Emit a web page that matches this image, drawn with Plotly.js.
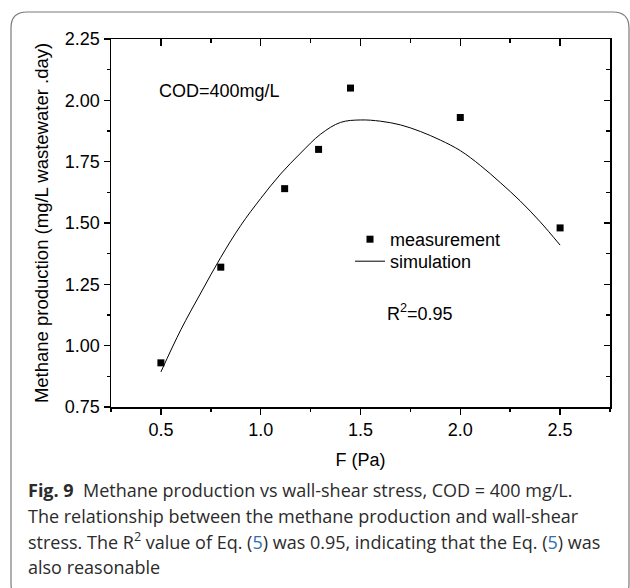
<!DOCTYPE html>
<html>
<head>
<meta charset="utf-8">
<script src="https://cdn.plot.ly/plotly-3.0.1.min.js"></script>
<style>
  html, body { margin: 0; padding: 0; background: #fff; }
  #chart { width: 630px; height: 588px; }
</style>
</head>
<body>
<div id="chart"></div>
<script>
// Measured data (F in Pa, methane production in mg/L wastewater.day)
const measF = [0.5, 0.8, 1.12, 1.29, 1.45, 2.0, 2.5];
const measY = [0.93, 1.32, 1.64, 1.80, 2.05, 1.93, 1.48];

// Simulation curve
const simF = [0.5, 0.6, 0.7, 0.8, 0.9, 1.0, 1.1, 1.2, 1.3, 1.4, 1.5, 1.6, 1.7, 1.8, 1.9, 2.0, 2.1, 2.2, 2.3, 2.4, 2.5];
const simY = [0.893, 1.065, 1.215, 1.36, 1.49, 1.60, 1.70, 1.785, 1.862, 1.910, 1.920, 1.915, 1.900, 1.873, 1.838, 1.795, 1.735, 1.665, 1.59, 1.505, 1.41];

const xTickVals = [0.5, 1.0, 1.5, 2.0, 2.5];
const xTickText = ["0.5", "1.0", "1.5", "2.0", "2.5"];
const yTickVals = [0.75, 1.00, 1.25, 1.50, 1.75, 2.00, 2.25];
const yTickText = ["0.75", "1.00", "1.25", "1.50", "1.75", "2.00", "2.25"];

const seriesNames = ["measurement", "simulation"];
const xTitle = "F (Pa)";
const yTitle = "Methane production (mg/L wastewater .day)";
const noteCOD = "COD=400mg/L";
const noteR2 = "R<sup>2</sup>=0.95";
const captionLines = [
  "<b>Fig. 9</b>  Methane production vs wall-shear stress, COD = 400 mg/L.",
  "The relationship between the methane production and wall-shear",
  "stress. The R<sup>2</sup> value of Eq. (<span style='color:#2f6db5'>5</span>) was 0.95, indicating that the Eq. (<span style='color:#2f6db5'>5</span>) was",
  "also reasonable"
];

// Layout geometry (pixels)
const W = 630, H = 588;
const M = {l: 111, r: 20, t: 39, b: 181};
const PW = W - M.l - M.r, PH = H - M.t - M.b;
const px = v => (v - M.l) / PW;
const py = v => (M.t + PH - v) / PH;

const FONT = "Arial, 'Liberation Sans', sans-serif";
const CAPFONT = "'Open Sans', 'Noto Sans', sans-serif";

const traces = [
  {
    x: measF, y: measY, name: seriesNames[0], type: "scatter", mode: "markers",
    marker: {symbol: "square", size: 7, color: "#000"}, legend: "legend"
  },
  {
    x: simF, y: simY, name: seriesNames[1], type: "scatter", mode: "lines",
    line: {color: "#000", width: 1, shape: "spline", smoothing: 1}, legend: "legend2"
  },
  {
    x: [], y: [], xaxis: "x2", yaxis: "y2", type: "scatter", mode: "markers",
    showlegend: false, hoverinfo: "skip"
  }
];

const axisCommon = {
  showgrid: false, zeroline: false, showline: true,
  linecolor: "#000", linewidth: 1.5, tickcolor: "#000", tickwidth: 1.5,
  tickfont: {family: FONT, size: 18, color: "#000"}
};

const captionAnn = captionLines.map((t, i) => ({
  text: t, xref: "paper", yref: "paper", x: px(26), y: py(490 + i * 25.7),
  xanchor: "left", yanchor: "middle", showarrow: false, align: "left",
  font: {family: CAPFONT, size: 18, color: "#2b2b2b"}
}));

const r = 16, fx0 = 11, fy0 = 12, fx1 = 629, fy1 = 600;
const framePath =
  `M ${px(fx0)} ${py(fy0 + r)} Q ${px(fx0)} ${py(fy0)} ${px(fx0 + r)} ${py(fy0)} ` +
  `L ${px(fx1 - r)} ${py(fy0)} Q ${px(fx1)} ${py(fy0)} ${px(fx1)} ${py(fy0 + r)} ` +
  `L ${px(fx1)} ${py(fy1 - r)} Q ${px(fx1)} ${py(fy1)} ${px(fx1 - r)} ${py(fy1)} ` +
  `L ${px(fx0 + r)} ${py(fy1)} Q ${px(fx0)} ${py(fy1)} ${px(fx0)} ${py(fy1 - r)} Z`;

const legendCommon = {
  xanchor: "left", yanchor: "top",
  bgcolor: "rgba(0,0,0,0)", borderwidth: 0,
  font: {family: FONT, size: 18, color: "#000"},
  tracegroupgap: 0, itemwidth: 30
};

const layout = {
  width: W, height: H,
  margin: M,
  paper_bgcolor: "#fff", plot_bgcolor: "#fff",
  showlegend: true,
  legend: Object.assign({}, legendCommon, {x: px(350), y: py(221)}),
  legend2: Object.assign({}, legendCommon, {x: px(350), y: py(243)}),
  xaxis: Object.assign({}, axisCommon, {
    range: [0.25, 2.75], tickvals: xTickVals, ticktext: xTickText,
    ticks: "outside", ticklen: 6,
    minor: {dtick: 0.25, tick0: 0.25, ticks: "outside", ticklen: 3, tickwidth: 1.5, tickcolor: "#000"},
    title: {text: xTitle, font: {family: FONT, size: 18, color: "#000"}, standoff: 14},
    automargin: false
  }),
  yaxis: Object.assign({}, axisCommon, {
    range: [0.75, 2.25], tickvals: yTickVals, ticktext: yTickText,
    ticks: "outside", ticklen: 6,
    minor: {dtick: 0.125, tick0: 0.75, ticks: "outside", ticklen: 3, tickwidth: 1.5, tickcolor: "#000"},
    title: {text: yTitle, font: {family: FONT, size: 18.5, color: "#000"}, standoff: 11},
    automargin: false
  }),
  xaxis2: Object.assign({}, axisCommon, {
    overlaying: "x", side: "top", range: [0.25, 2.75], tickvals: xTickVals,
    showticklabels: false, ticks: "inside", ticklen: 7,
    minor: {dtick: 0.25, tick0: 0.25, ticks: "inside", ticklen: 4, tickwidth: 1.5, tickcolor: "#000"}
  }),
  yaxis2: Object.assign({}, axisCommon, {
    overlaying: "y", side: "right", range: [0.75, 2.25], tickvals: yTickVals,
    showticklabels: false, ticks: "inside", ticklen: 6,
    minor: {dtick: 0.125, tick0: 0.75, ticks: "inside", ticklen: 4, tickwidth: 1.5, tickcolor: "#000"}
  }),
  annotations: [
    {text: noteCOD, xref: "paper", yref: "paper", x: px(157), y: py(91),
     xanchor: "left", yanchor: "middle", showarrow: false,
     font: {family: FONT, size: 18, color: "#000"}},
    {text: noteR2, xref: "paper", yref: "paper", x: px(385), y: py(312),
     xanchor: "left", yanchor: "middle", showarrow: false,
     font: {family: FONT, size: 18, color: "#000"}}
  ].concat(captionAnn),
  shapes: [
    {type: "path", xref: "paper", yref: "paper", path: framePath,
     line: {color: "#7a7a7a", width: 1.2}, fillcolor: "rgba(0,0,0,0)", layer: "below"}
  ]
};

Plotly.newPlot("chart", traces, layout, {displayModeBar: false, staticPlot: true});
</script>
</body>
</html>
